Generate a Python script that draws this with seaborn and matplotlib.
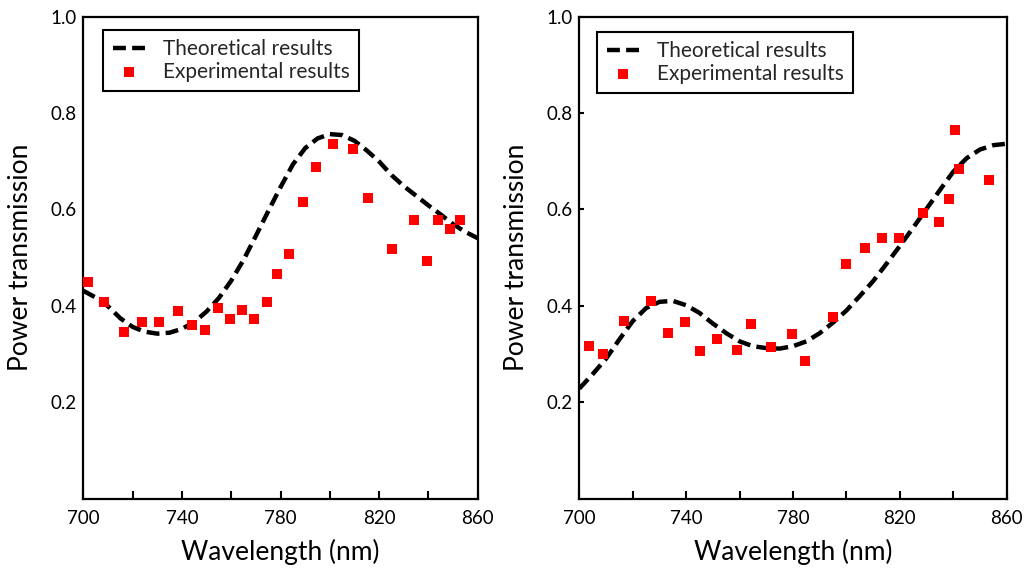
import numpy as np
import pandas as pd
import matplotlib
matplotlib.use("Agg")
import matplotlib.pyplot as plt
import seaborn as sns

# ---- Data ----
# Left panel: theoretical curve
theo_wl_a = [700, 705, 710, 715, 720, 725, 730, 735, 740, 745, 750, 755, 760, 765,
             770, 775, 780, 785, 790, 795, 800, 805, 810, 815, 820, 825, 830, 835,
             840, 845, 850, 855, 860]
theo_tr_a = [0.431, 0.417, 0.399, 0.374, 0.356, 0.346, 0.342, 0.344, 0.352, 0.366,
             0.388, 0.416, 0.452, 0.495, 0.545, 0.596, 0.646, 0.693, 0.727, 0.747,
             0.756, 0.754, 0.742, 0.722, 0.699, 0.671, 0.648, 0.628, 0.608, 0.589,
             0.569, 0.553, 0.540]
# Left panel: experimental points
exp_wl_a = [702.1, 708.2, 716.6, 724.0, 730.8, 738.6, 744.0, 749.4, 754.6, 759.5,
            764.5, 769.4, 774.6, 778.7, 783.6, 789.2, 794.3, 801.4, 809.5, 815.6,
            825.4, 834.2, 839.2, 843.7, 848.7, 852.8]
exp_tr_a = [0.450, 0.407, 0.346, 0.367, 0.367, 0.389, 0.360, 0.350, 0.395, 0.372,
            0.391, 0.372, 0.408, 0.466, 0.507, 0.616, 0.688, 0.735, 0.725, 0.623,
            0.518, 0.578, 0.493, 0.578, 0.559, 0.578]

# Right panel: theoretical curve
theo_wl_b = [700, 705, 710, 715, 720, 725, 730, 735, 740, 745, 750, 755, 760, 765,
             770, 775, 780, 785, 790, 795, 800, 805, 810, 815, 820, 825, 830, 835,
             840, 845, 850, 855, 860]
theo_tr_b = [0.228, 0.258, 0.290, 0.330, 0.368, 0.395, 0.408, 0.410, 0.401, 0.385,
             0.363, 0.343, 0.326, 0.316, 0.312, 0.311, 0.316, 0.326, 0.343, 0.365,
             0.390, 0.420, 0.451, 0.487, 0.524, 0.562, 0.601, 0.640, 0.678, 0.706,
             0.724, 0.733, 0.736]
# Right panel: experimental points
exp_wl_b = [703.5, 708.9, 716.6, 726.9, 733.2, 739.4, 745.0, 751.7, 758.9, 764.3,
            771.7, 779.5, 784.5, 794.9, 799.8, 806.8, 813.5, 819.5, 828.8, 834.5,
            838.3, 840.7, 842.0, 853.5]
exp_tr_b = [0.317, 0.299, 0.368, 0.410, 0.343, 0.366, 0.306, 0.330, 0.308, 0.361,
            0.315, 0.341, 0.285, 0.377, 0.486, 0.519, 0.541, 0.541, 0.592, 0.573,
            0.621, 0.765, 0.683, 0.661]

x_ticks = [700, 720, 740, 760, 780, 800, 820, 840, 860]
x_ticklabels = ["700", "", "740", "", "780", "", "820", "", "860"]
y_ticks = [0.2, 0.4, 0.6, 0.8, 1.0]
y_ticklabels = ["0.2", "0.4", "0.6", "0.8", "1.0"]

labels = ["Theoretical results", "Experimental results"]
xlabel = "Wavelength (nm)"
ylabel = "Power transmission"

# ---- Style ----
sns.set_theme(style="white")
plt.rcParams["font.family"] = ["Lato", "DejaVu Sans"]

fig = plt.figure(figsize=(10.26, 5.73), dpi=100)
W, H = 1026, 573
bottom_px, top_px = 498.5, 16.5
ax_a = fig.add_axes([83.3 / W, 1 - bottom_px / H, 394.5 / W, (bottom_px - top_px) / H])
ax_b = fig.add_axes([579.3 / W, 1 - bottom_px / H, 427.4 / W, (bottom_px - top_px) / H])

panels = [
    (ax_a, theo_wl_a, theo_tr_a, exp_wl_a, exp_tr_a, 0, (103.3, 30.0)),
    (ax_b, theo_wl_b, theo_tr_b, exp_wl_b, exp_tr_b, 3.5, (597.3, 31.7)),
]

for ax, twl, ttr, ewl, etr, ytick_len, leg_px in panels:
    df_t = pd.DataFrame({"wl": twl, "tr": ttr})
    df_e = pd.DataFrame({"wl": ewl, "tr": etr})
    sns.lineplot(data=df_t, x="wl", y="tr", ax=ax, color="black", lw=3.2,
                 linestyle=(0, (2.9, 1.4)), label=labels[0], zorder=2)
    sns.scatterplot(data=df_e, x="wl", y="tr", ax=ax, color="#ff0000", marker="s",
                    s=46, linewidth=0, label=labels[1], zorder=3)
    ax.set_xlim(700, 860)
    ax.set_ylim(0, 1.0)
    ax.set_xticks(x_ticks)
    ax.set_xticklabels(x_ticklabels)
    ax.set_yticks(y_ticks)
    ax.set_yticklabels(y_ticklabels)
    ax.tick_params(axis="x", direction="in", length=6, width=1.5, pad=8,
                   labelsize=13.5, colors="black", bottom=True)
    ax.tick_params(axis="y", direction="in", length=ytick_len, width=1.5, pad=5,
                   labelsize=13.5, colors="black", left=True)
    for sp in ax.spines.values():
        sp.set_visible(True)
        sp.set_color("black")
        sp.set_linewidth(1.6)
    ax.set_xlabel(xlabel, fontsize=19, labelpad=9, color="black")
    ax.set_ylabel(ylabel, fontsize=19, labelpad=12, color="black")

    # legend anchored at upper-left pixel of reference box
    bb = ax.get_position()
    lx = (leg_px[0] / W - bb.x0) / bb.width
    ly = ((1 - leg_px[1] / H) - bb.y0) / bb.height
    leg = ax.legend(loc="upper left", bbox_to_anchor=(lx, ly), frameon=True,
                    fontsize=15, handlelength=1.6, handletextpad=0.8,
                    borderpad=0.45, labelspacing=0.12, borderaxespad=0,
                    fancybox=False, scatterpoints=1)
    fr = leg.get_frame()
    fr.set_edgecolor("black")
    fr.set_linewidth(1.5)
    fr.set_alpha(1)

fig.savefig("out.png", dpi=100)
